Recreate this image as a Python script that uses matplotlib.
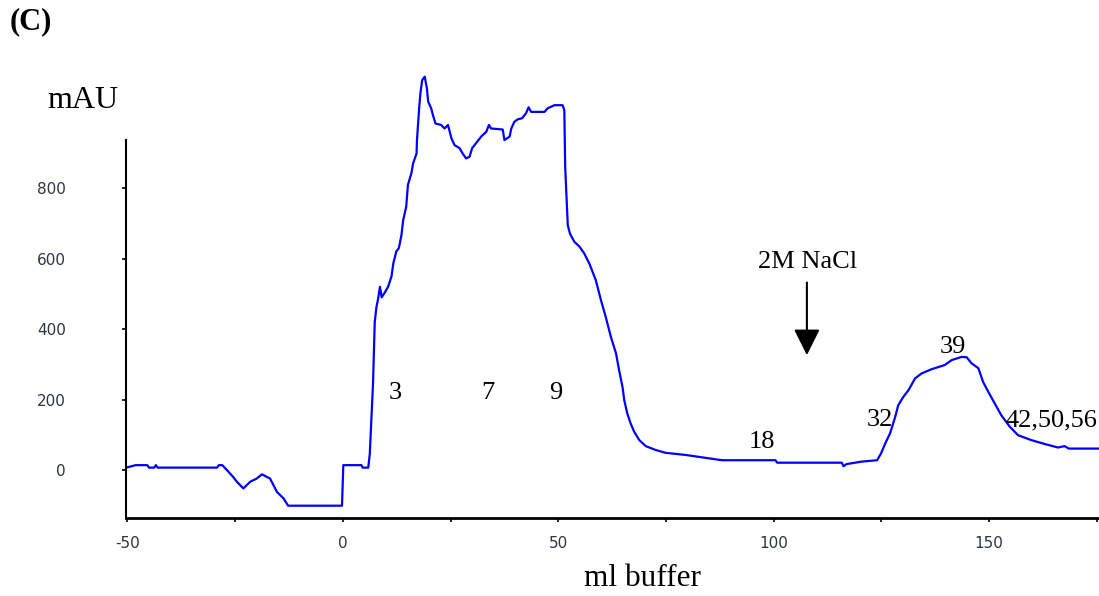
import matplotlib
matplotlib.use("Agg")
import matplotlib.pyplot as plt
from matplotlib.ticker import MultipleLocator


# -----------------------------
# Data
# -----------------------------

ml = [
  -50.3, -48.1, -45.4, -45.0, -43.8, -43.4, -43.0, -29.2, -28.8, -28.0,
  -26.9, -25.5, -24.6, -23.1, -21.5, -20.0, -18.8, -16.9, -16.1, -15.3,
  -13.8, -12.7, -0.2, 0.1, 4.3, 4.6, 5.9, 6.25, 6.6, 7.0,
  7.4, 7.8, 8.2, 8.6, 9.0, 9.8, 10.5, 11.3, 11.7, 12.4,
  13.0, 13.6, 14.0, 14.7, 15.1, 15.9, 16.3, 17.1, 17.2, 17.7,
  18.0, 18.4, 19.0, 19.5, 19.8, 20.5, 20.9, 21.5, 22.8, 23.6,
  24.4, 24.8, 25.2, 25.9, 27.1, 27.8, 28.6, 29.4, 30.0, 30.9,
  32.1, 33.3, 33.9, 34.4, 37.1, 37.5, 38.7, 39.1, 39.8, 40.6,
  41.6, 42.5, 43.1, 43.7, 46.8, 47.5, 49.1, 51.0, 51.4, 51.6,
  51.9, 52.2, 52.7, 53.7, 54.9, 56.0, 57.2, 58.7, 59.9, 61.0,
  62.2, 63.4, 64.1, 64.9, 65.3, 66.0, 66.8, 67.6, 68.8, 70.3,
  72.6, 74.9, 79.5, 83.4, 88.0, 100.4, 100.8, 115.8, 116.2, 116.9,
  120.4, 124.0, 124.9, 125.9, 127.0, 128.2, 128.9, 130.1, 131.3, 132.8,
  134.3, 136.6, 139.7, 141.3, 143.6, 144.8, 145.9, 147.5, 148.6, 149.8,
  151.3, 152.8, 154.8, 156.7, 159.8, 162.9, 166.0, 167.5, 168.5, 175.5,
]

mau = [
  7, 14, 14, 7, 7, 14, 7, 7, 14, 14,
  0, -19, -33, -52, -33, -24, -12, -24, -43, -62,
  -80, -101, -101, 14, 14, 7, 7, 47, 137, 246,
  421, 463, 487, 520, 490, 505, 520, 550, 586, 620,
  630, 667, 709, 747, 809, 842, 870, 898, 936, 1026,
  1069, 1106, 1116, 1083, 1045, 1026, 1007, 983, 979, 969,
  979, 960, 941, 922, 913, 898, 884, 889, 913, 927,
  946, 960, 979, 969, 966, 936, 946, 969, 988, 995,
  998, 1012, 1029, 1016, 1016, 1026, 1035, 1035, 1021, 860,
  775, 695, 671, 648, 634, 615, 586, 539, 482, 435,
  378, 331, 284, 236, 199, 161, 132, 109, 85, 68,
  57, 49, 43, 36, 28, 28, 21, 21, 11, 17,
  24, 28, 47, 76, 104, 151, 184, 208, 227, 260,
  274, 286, 298, 312, 321, 320, 303, 289, 250, 222,
  189, 156, 123, 99, 85, 74, 64, 68, 61, 61,
]

# fraction labels: (text, ml, mAU)
frac_labels = ["3", "7", "9", "18", "32", "39", "42,50,56"]
frac_x = [12.1, 33.6, 49.4, 97.2, 124.6, 141.5, 164.5]
frac_y = [218, 218, 218, 79, 142, 349, 142]

nacl_x = 107.7


# -----------------------------
# Plot
# -----------------------------

plt.rcParams["axes.unicode_minus"] = False

SERIF = ["Liberation Serif", "DejaVu Serif"]
TICKFONT = ["Liberation Sans Narrow", "DejaVu Sans"]

fig = plt.figure(figsize=(10.99, 5.96), dpi=100)
ax = fig.add_axes([0.1144, 0.1314, 0.8856, 0.7897])

ax.plot(ml, mau, color="#0000ff", lw=1.6)

ax.set_xlim(-50.4, 175.5)
ax.set_ylim(-135, 1200)

ax.spines["top"].set_visible(False)
ax.spines["right"].set_visible(False)
ax.spines["left"].set_bounds(-135, 936)
ax.spines["left"].set_linewidth(1.5)
ax.spines["bottom"].set_linewidth(2.0)

ax.xaxis.set_major_locator(MultipleLocator(50))
ax.xaxis.set_minor_locator(MultipleLocator(25))
ax.set_yticks([0, 200, 400, 600, 800])

ax.tick_params(axis="both", which="both", direction="out", length=3,
               width=1.2, color="black")
ax.tick_params(axis="x", pad=10)
ax.tick_params(axis="y", pad=40)

for lab in ax.get_xticklabels() + ax.get_yticklabels():
  lab.set_family(TICKFONT)
  lab.set_fontsize(11)
  lab.set_color("#2e3440")

for t, x, y in zip(frac_labels, frac_x, frac_y):
  ax.text(x, y, t, ha="center", va="center", fontsize=19, family=SERIF)

ax.text(nacl_x + 0.1, 590, "2M NaCl", ha="center", va="center",
        fontsize=19, family=SERIF)
ax.annotate(
  "",
  xy=(nacl_x, 326),
  xytext=(nacl_x, 532),
  arrowprops=dict(
    arrowstyle="-|>,head_length=0.8,head_width=0.4",
    lw=1.5,
    color="black",
    mutation_scale=20,
    shrinkA=0,
    shrinkB=0,
  ),
)

fig.text(10 / 1099, 1 - 22 / 596, "(C)", ha="left", va="center",
         fontsize=22, fontweight="bold", family=SERIF)
fig.text(83 / 1099, 1 - 100 / 596, "mAU", ha="center", va="center",
         fontsize=23, family=SERIF)
fig.text(642 / 1099, 1 - 578 / 596, "ml buffer", ha="center", va="center",
         fontsize=22.5, family=SERIF)


# -----------------------------
# Save
# -----------------------------

fig.savefig("out.png", dpi=100)
plt.close(fig)
